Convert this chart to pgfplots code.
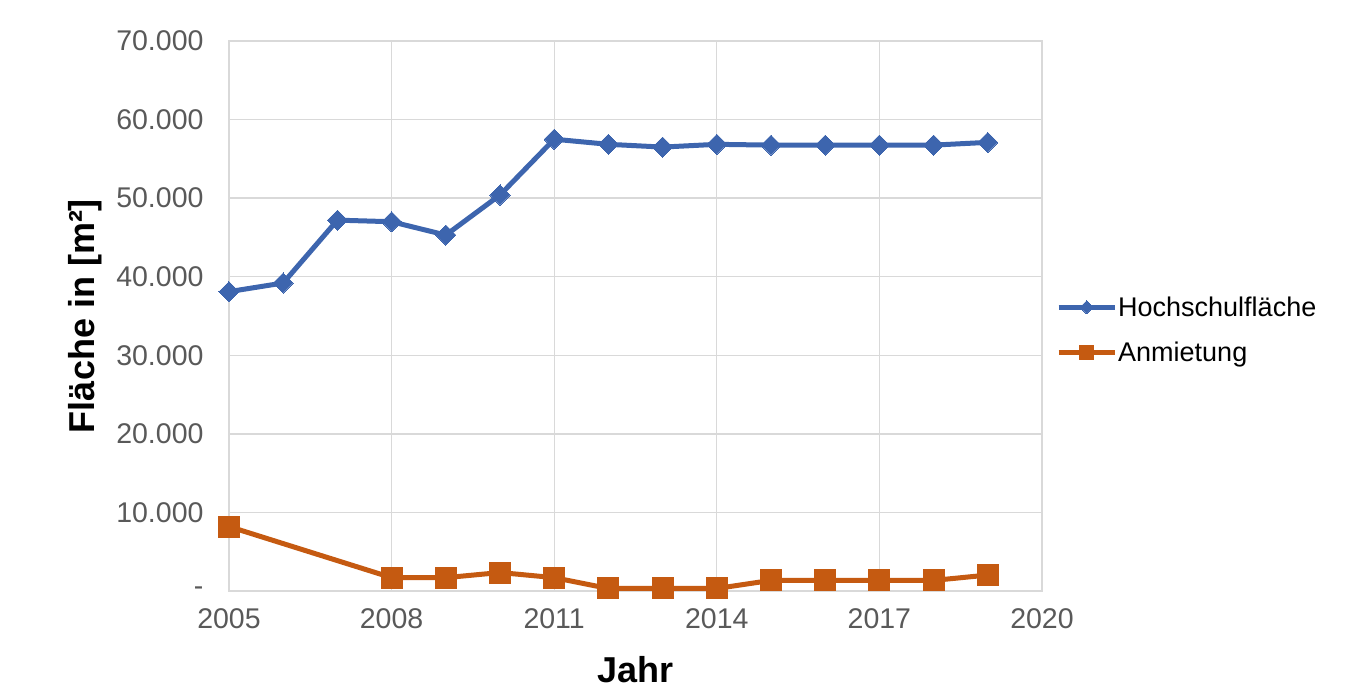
\documentclass[border=0pt]{standalone}
\usepackage{pgfplots}
\pgfplotsset{compat=1.18}
\usepackage{fontspec}
\setmainfont{Liberation Sans}
\definecolor{cblue}{RGB}{61,101,174}
\definecolor{corange}{RGB}{197,90,17}
\definecolor{cgrid}{RGB}{217,217,217}
\definecolor{ctick}{RGB}{89,89,89}
\begin{document}
\begin{tikzpicture}
\begin{axis}[
  scale only axis,
  width=813pt, height=550pt,
  xmin=2005, xmax=2020, ymin=0, ymax=70000,
  scaled y ticks=false,
  xtick={2005,2008,2011,2014,2017,2020},
  xticklabels={2005,2008,2011,2014,2017,2020},
  ytick={0,10000,20000,30000,40000,50000,60000,70000},
  yticklabels={-,10.000,20.000,30.000,40.000,50.000,60.000,70.000},
  grid=major,
  major grid style={cgrid, line width=1.3pt},
  axis line style={cgrid, line width=1.3pt},
  tick style={draw=none},
  ticklabel style={font=\fontsize{28.5}{33}\selectfont, text=ctick},
  yticklabel style={xshift=-22pt},
  xticklabel style={yshift=-14pt},
  xlabel={\textbf{Jahr}},
  ylabel={\textbf{Fläche in [m²]}},
  every axis x label/.style={at={([yshift=-79pt]axis description cs:0.5,0)}, anchor=center, font=\fontsize{36}{42}\selectfont},
  every axis y label/.style={at={([xshift=-144pt]axis description cs:0,0.5)}, anchor=center, rotate=90, font=\fontsize{36}{42}\selectfont},
  legend style={at={(axis description cs:1,0.475)}, anchor=west, xshift=14pt,
    draw=none, fill=none, inner sep=0pt, row sep=22pt,
    font=\fontsize{27}{32}\selectfont,
    nodes={inner sep=1pt}},
  legend cell align=left,
  legend image code/.code={\draw[mark repeat=2, mark phase=2, #1, every mark/.append style={scale=0.65}] plot coordinates {(0pt,0pt) (28pt,0pt) (56pt,0pt)};},
]
\addplot[color=cblue, line width=5pt, mark=square*, mark size=7.1pt, mark options={rotate=45, line width=0pt, fill=cblue}]
coordinates {
(2005,38100) (2006,39200) (2007,47200) (2008,47000) (2009,45300) (2010,50400)
(2011,57500) (2012,56850) (2013,56500) (2014,56850) (2015,56750) (2016,56750)
(2017,56750) (2018,56750) (2019,57100)
};
\addlegendentry{Hochschulfläche}
\addplot[color=corange, line width=5pt, mark=square*, mark size=10.5pt, mark options={line width=0pt, fill=corange}]
coordinates {
(2005,8200) (2008,1700) (2009,1700) (2010,2350) (2011,1700) (2012,320)
(2013,320) (2014,320) (2015,1350) (2016,1350) (2017,1350) (2018,1350) (2019,2030)
};
\addlegendentry{Anmietung}
\end{axis}
\useasboundingbox (-229pt,-98pt) rectangle (1129pt,591pt);
\end{tikzpicture}
\end{document}
